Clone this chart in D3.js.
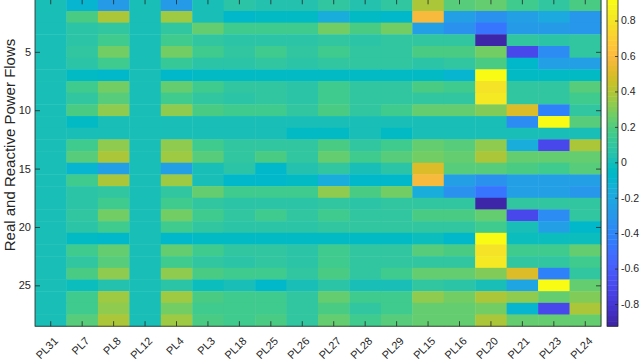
<!DOCTYPE html>
<html><head><meta charset="utf-8">
<script src="https://cdn.jsdelivr.net/npm/d3@7"></script>
<style>body{margin:0;background:#fff}svg{display:block}</style>
</head><body>
<svg id="chart" width="640" height="360"></svg>
<script>
// ---------- data ----------
const columns = ["PL31","PL7","PL8","PL12","PL4","PL3","PL18","PL25","PL26","PL27","PL28","PL29","PL15","PL16","PL20","PL21","PL23","PL24"];
const rowIds = d3.range(1, 29);
const yTicks = [5, 10, 15, 20, 25];
const colorTicks = [-0.8, -0.6, -0.4, -0.2, 0, 0.2, 0.4, 0.6, 0.8];
const colorLimits = [-0.925, 0.92];
const yLabel = "Real and Reactive Power Flows";
// rows 1..28, columns in the order above
const values = [
 [0.01,-0.10,-0.29,0.01,-0.29,0.01, 0.07,0.04,0.04,0.11,0.05,0.10, 0.40,0.21,0.23,0.17,0.11,0.185],
 [0.01,0.185,0.385,0.01,0.355,0.01, -0.075,-0.046,-0.046,-0.175,-0.046,-0.075, 0.60,-0.25,-0.34,-0.25,-0.19,-0.30],
 [0.01,0.07,0.10,0.01,0.10,0.242, 0.17,0.17,0.17,0.285,0.185,0.285, -0.25,-0.33,-0.49,-0.28,-0.28,-0.30],
 [0.01,0.07,0.156,0.01,0.156,0.098, 0.07,0.07,0.07,0.098,0.06,0.098, 0.098,0.098,-0.92,0.098,0.07,0.098],
 [0.01,0.11,0.285,0.01,0.27,0.156, 0.098,0.156,0.098,0.156,0.11,0.11, 0.185,0.185,0.271,-0.71,-0.36,0.098],
 [0.01,0.07,0.156,0.01,0.12,0.07, 0.07,0.11,0.07,0.098,0.098,0.098, 0.07,0.09,0.185,-0.075,-0.25,-0.25],
 [0.01,-0.046,-0.075,0.01,-0.075,-0.046, -0.046,-0.046,-0.046,-0.06,-0.046,-0.046, -0.05,-0.09,0.91,-0.046,-0.046,-0.046],
 [0.01,0.17,0.27,0.01,0.23,0.156, 0.098,0.098,0.07,0.17,0.11,0.11, 0.185,0.17,0.80,0.11,0.11,0.214],
 [0.01,0.11,0.214,0.01,0.17,0.11, 0.06,0.098,0.07,0.156,0.098,0.11, 0.11,0.11,0.83,0.11,0.098,0.17],
 [0.01,0.185,0.33,0.01,0.33,0.185, 0.156,0.156,0.098,0.185,0.11,0.17, 0.242,0.23,0.30,0.50,-0.43,0.11],
 [0.01,-0.046,0.01,0.01,0.01,0.01, 0.0,0.0,0.0,0.0,0.0,0.0, 0.005,0.005,0.005,-0.36,0.91,0.214],
 [0.01,0.01,0.01,0.01,0.01,0.01, 0.0,0.0,-0.046,-0.046,0.01,-0.046, 0.0,0.0,0.0,0.0,0.0,0.0],
 [0.01,0.17,0.33,0.01,0.315,0.17, 0.11,0.11,0.098,0.185,0.11,0.17, 0.23,0.214,0.33,-0.175,-0.70,0.40],
 [0.01,0.214,0.385,0.01,0.37,0.214, 0.11,0.185,0.098,0.23,0.17,0.214, 0.27,0.242,0.40,0.242,0.242,0.242],
 [0.01,-0.09,-0.26,0.01,-0.24,0.01, 0.07,-0.075,0.04,0.098,0.01,0.07, 0.50,0.214,0.214,0.185,0.156,0.214],
 [0.01,0.17,0.385,0.01,0.355,0.01, -0.075,-0.075,-0.046,-0.175,-0.075,-0.075, 0.60,-0.25,-0.34,-0.25,-0.25,-0.26],
 [0.01,0.07,0.098,0.01,0.11,0.242, 0.17,0.17,0.17,0.315,0.185,0.285, -0.175,-0.33,-0.49,-0.25,-0.26,-0.30],
 [0.01,0.07,0.156,0.01,0.156,0.098, 0.07,0.07,0.07,0.098,0.06,0.098, 0.098,0.098,-0.92,0.098,0.098,0.098],
 [0.01,0.11,0.285,0.01,0.27,0.156, 0.098,0.156,0.098,0.156,0.11,0.11, 0.185,0.185,0.242,-0.71,-0.36,0.098],
 [0.01,0.075,0.17,0.01,0.156,0.098, 0.07,0.07,0.07,0.098,0.098,0.098, 0.11,0.098,0.156,0.01,-0.25,-0.075],
 [0.01,-0.046,-0.075,0.01,-0.075,-0.046, -0.046,-0.046,-0.046,-0.046,-0.046,-0.046, -0.017,-0.075,0.91,-0.017,-0.017,-0.017],
 [0.01,0.17,0.242,0.01,0.23,0.156, 0.098,0.098,0.07,0.17,0.11,0.11, 0.214,0.185,0.80,0.156,0.156,0.23],
 [0.01,0.11,0.214,0.01,0.17,0.11, 0.06,0.098,0.07,0.156,0.098,0.11, 0.11,0.11,0.83,0.11,0.11,0.17],
 [0.01,0.185,0.33,0.01,0.315,0.185, 0.156,0.156,0.098,0.185,0.11,0.17, 0.242,0.23,0.30,0.50,-0.43,0.11],
 [0.01,-0.017,0.04,0.01,0.06,-0.017, 0.0,-0.075,0.0,0.06,0.0,0.0, 0.098,0.07,0.01,-0.21,0.91,0.23],
 [0.01,0.17,0.345,0.01,0.345,0.185, 0.156,0.156,0.098,0.23,0.156,0.17, 0.315,0.285,0.385,0.33,0.242,0.30],
 [0.01,0.156,0.315,0.01,0.285,0.17, 0.156,0.156,0.098,0.185,0.11,0.156, 0.23,0.23,0.285,-0.104,-0.70,0.40],
 [0.01,0.214,0.385,0.01,0.345,0.185, 0.156,0.185,0.098,0.23,0.17,0.214, 0.242,0.242,0.40,0.242,0.242,0.242]
];

// ---------- parula colormap (64) ----------
const parula = [
[0.2422,0.1504,0.6603],[0.2504,0.1650,0.7076],[0.2578,0.1818,0.7511],[0.2647,0.1978,0.7952],
[0.2706,0.2147,0.8364],[0.2751,0.2342,0.8710],[0.2783,0.2559,0.8991],[0.2803,0.2782,0.9221],
[0.2813,0.3006,0.9414],[0.2810,0.3228,0.9579],[0.2795,0.3447,0.9717],[0.2760,0.3667,0.9829],
[0.2699,0.3892,0.9906],[0.2602,0.4123,0.9952],[0.2440,0.4358,0.9988],[0.2206,0.4603,0.9973],
[0.1963,0.4847,0.9892],[0.1834,0.5074,0.9798],[0.1786,0.5289,0.9682],[0.1764,0.5499,0.9520],
[0.1687,0.5703,0.9359],[0.1540,0.5902,0.9218],[0.1460,0.6091,0.9079],[0.1380,0.6276,0.8973],
[0.1248,0.6459,0.8883],[0.1113,0.6635,0.8763],[0.0952,0.6798,0.8598],[0.0689,0.6948,0.8394],
[0.0297,0.7082,0.8163],[0.0036,0.7203,0.7917],[0.0067,0.7312,0.7660],[0.0433,0.7411,0.7394],
[0.0964,0.7500,0.7120],[0.1408,0.7584,0.6842],[0.1717,0.7670,0.6554],[0.1938,0.7758,0.6251],
[0.2161,0.7843,0.5923],[0.2470,0.7918,0.5567],[0.2906,0.7973,0.5188],[0.3406,0.8008,0.4789],
[0.3909,0.8029,0.4354],[0.4456,0.8024,0.3909],[0.5044,0.7993,0.3480],[0.5616,0.7942,0.3045],
[0.6174,0.7876,0.2612],[0.6720,0.7793,0.2227],[0.7242,0.7698,0.1910],[0.7738,0.7598,0.1646],
[0.8203,0.7498,0.1535],[0.8634,0.7406,0.1596],[0.9035,0.7330,0.1774],[0.9393,0.7288,0.2100],
[0.9728,0.7298,0.2394],[0.9956,0.7434,0.2371],[0.9970,0.7659,0.2199],[0.9952,0.7893,0.2028],
[0.9892,0.8136,0.1885],[0.9786,0.8386,0.1766],[0.9676,0.8639,0.1643],[0.9610,0.8890,0.1537],
[0.9597,0.9135,0.1423],[0.9628,0.9373,0.1265],[0.9691,0.9606,0.1064],[0.9769,0.9839,0.0805]
].map(c => d3.rgb(c[0]*255, c[1]*255, c[2]*255).formatHex());

// ---------- layout ----------
const L = 35, R = 601, T = -0.7, B = 326.2;
const CBL = 607, CBR = 618;
const ink = "#262626";
const font = "'Liberation Sans', Arial, Helvetica, sans-serif";

const svg = d3.select("#chart").style("font-family", font);

const x = d3.scaleBand().domain(columns).range([L, R]);
const y = d3.scaleBand().domain(rowIds).range([T, B]);
const yLin = d3.scaleLinear().domain([0.5, 28.5]).range([T, B]);
const color = d3.scaleQuantize().domain(colorLimits).range(parula);

// cells
const cells = [];
values.forEach((row, i) => row.forEach((v, j) => cells.push({r: rowIds[i], c: columns[j], v})));
svg.append("g").selectAll("rect").data(cells).join("rect")
  .attr("x", d => x(d.c)).attr("y", d => y(d.r))
  .attr("width", x.bandwidth() + 0.4).attr("height", y.bandwidth() + 0.4)
  .attr("fill", d => color(d.v));

// axes
function styleAxis(g) {
  g.select(".domain").remove();
  g.selectAll(".tick line").attr("stroke", ink).attr("stroke-width", 0.8);
  g.selectAll(".tick text").attr("fill", ink).style("font-size", "11px").style("font-family", font);
}
svg.append("g").attr("transform", `translate(0,${B})`)
  .call(d3.axisBottom(x).tickSizeInner(-5).tickSizeOuter(0))
  .call(styleAxis)
  .call(g => g.selectAll(".tick text")
     .attr("x", 0).attr("y", 0).attr("dy", 0)
     .attr("text-anchor", "end")
     .attr("transform", "translate(8,15.5) rotate(-45)"));
svg.append("g").attr("transform", `translate(0,${T})`)
  .call(d3.axisTop(x).tickSizeInner(-5).tickSizeOuter(0).tickFormat(""))
  .call(styleAxis);
svg.append("g").attr("transform", `translate(${L},0)`)
  .call(d3.axisLeft(yLin).tickValues(yTicks).tickSizeInner(-5).tickSizeOuter(0).tickPadding(4))
  .call(styleAxis);
svg.append("g").attr("transform", `translate(${R},0)`)
  .call(d3.axisRight(yLin).tickValues(yTicks).tickSizeInner(-5).tickSizeOuter(0).tickFormat(""))
  .call(styleAxis);
svg.append("rect").attr("x", L).attr("y", T).attr("width", R - L).attr("height", B - T)
  .attr("fill", "none").attr("stroke", ink).attr("stroke-width", 0.8);

// y label
svg.append("text").attr("transform", "translate(15,145) rotate(-90)")
  .attr("text-anchor", "middle").attr("fill", ink)
  .style("font-size", "15px").text(yLabel);

// colorbar
const cScale = d3.scaleLinear().domain(colorLimits).range([B, T]);
const step = (colorLimits[1] - colorLimits[0]) / parula.length;
svg.append("g").selectAll("rect").data(parula).join("rect")
  .attr("x", CBL).attr("width", CBR - CBL)
  .attr("y", (c, i) => cScale(colorLimits[0] + (i + 1) * step))
  .attr("height", (c, i) => cScale(colorLimits[0] + i * step) - cScale(colorLimits[0] + (i + 1) * step) + 0.4)
  .attr("fill", c => c);
svg.append("g").attr("transform", `translate(${CBR},0)`)
  .call(d3.axisRight(cScale).tickValues(colorTicks).tickSizeInner(-3).tickSizeOuter(0).tickPadding(3)
        .tickFormat(d => String(+d.toFixed(1))))
  .call(styleAxis)
  .call(g => g.selectAll(".tick text").style("font-size", "10.5px"));
svg.append("rect").attr("x", CBL).attr("y", T).attr("width", CBR - CBL).attr("height", B - T)
  .attr("fill", "none").attr("stroke", ink).attr("stroke-width", 0.8);
</script>
</body></html>
